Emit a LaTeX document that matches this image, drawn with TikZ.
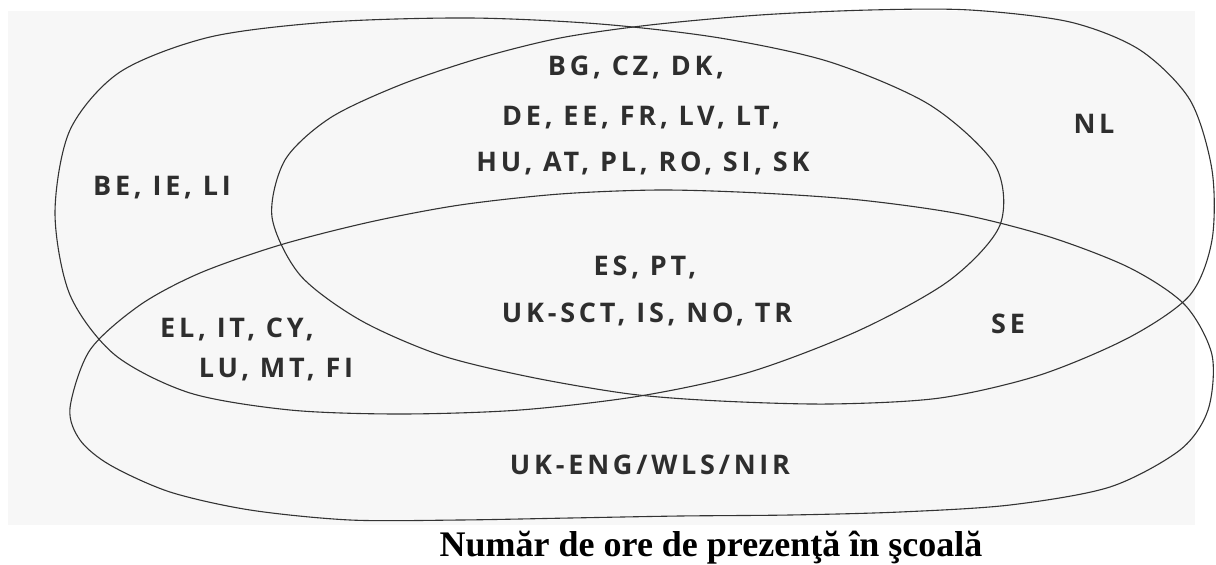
\documentclass[tikz,border=0pt]{standalone}
\usepackage{fontspec}
\newfontfamily\labfont{Open Sans}[LetterSpace=14]
\newfontfamily\titfont{Liberation Serif}
\begin{document}
\begin{tikzpicture}[x=1pt,y=-1pt,
  venn/.style={draw=black!80, line width=1.1pt},
  lab/.style={font=\labfont\bfseries\fontsize{27}{31}\selectfont, text=black!82, inner sep=0pt, anchor=base},
  titl/.style={font=\titfont\bfseries\fontsize{36}{40}\selectfont, inner sep=0pt, anchor=base}]
\useasboundingbox (0,0) rectangle (1216,565);
\fill[black!3] (8,11) rectangle (1195,525);
% curve A (left)
\draw[venn] plot[smooth cycle] coordinates {(55,213) (70,130) (120,72) (210,37) (330,22) (470,18) (600,24) (720,38) (830,62) (930,105) (995,165) (1000,225) (950,280) (860,330) (750,372) (640,396) (520,410) (400,414) (290,410) (190,393) (115,355) (70,295)};
% curve B (right)
\draw[venn] plot[smooth cycle] coordinates {(272,217) (285,160) (330,118) (400,85) (480,58) (560,38) (650,25) (760,15) (870,10) (970,10) (1070,22) (1140,50) (1190,100) (1212,170) (1212,240) (1190,295) (1130,337) (1040,375) (940,398) (830,404) (720,401) (630,394) (530,377) (440,355) (360,320) (300,275)};
% curve C (bottom)
\draw[venn] plot[smooth cycle] coordinates {(70,408) (90,350) (140,305) (200,273) (280,245) (370,222) (460,205) (560,194) (660,190) (760,193) (860,200) (960,214) (1050,237) (1130,268) (1185,305) (1212,355) (1208,410) (1180,450) (1110,487) (1010,505) (900,512) (790,515) (680,516) (570,518) (460,520) (350,520) (250,510) (170,492) (110,465) (80,440)};
\node[lab] (be) at (162,195) {BE, IE, LI};
\node[lab] (bg) at (636,75) {BG, CZ, DK,};
\node[lab] (de) at (641,125) {DE, EE, FR, LV, LT,};
\node[lab] (hu) at (643,171) {HU, AT, PL, RO, SI, SK};
\node[lab] (nl) at (1094,133) {NL};
\node[lab] (es) at (645,275) {ES, PT,};
\node[lab] (uks) at (647,322) {UK-SCT, IS, NO, TR};
\node[lab] (el) at (237,337) {EL, IT, CY,};
\node[lab] (lu) at (276,377) {LU, MT, FI};
\node[lab] (se) at (1008,333) {SE};
\node[lab] (uke) at (650,474) {UK-ENG/WLS/NIR};
\node[titl] (title) at (711,556) {Număr de ore de prezenţă în şcoală};
\end{tikzpicture}
\end{document}
